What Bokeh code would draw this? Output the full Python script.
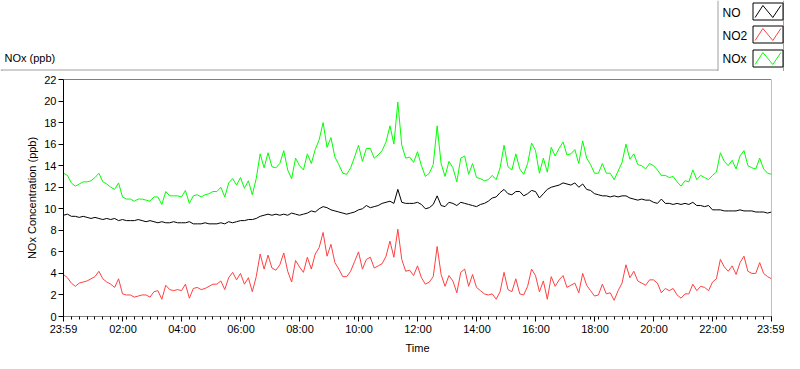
from bokeh.plotting import figure
from bokeh.layouts import column
from bokeh.models import FixedTicker, Span, Range1d
from bokeh.core.properties import value
from bokeh.embed import file_html
from bokeh.resources import INLINE

# ---------------- data ----------------
series_names = ["NO", "NO2", "NOx"]
series_colors = ["#000000", "#FF4040", "#00FF00"]

# sample times in minutes after 23:59 (8-minute steps over 24 h)
sample_minutes = list(range(0, 1441, 8))

no_ppb = [
    9.4, 9.5, 9.3, 9.3, 9.2, 9.3, 9.2, 9.1, 9.2, 9.1, 9.0, 9.1, 9.0, 9.1, 8.9, 9.0, 8.9, 8.9, 8.9, 9.0, 8.9, 8.8, 8.9, 8.8, 8.7, 8.8, 8.7, 8.7, 8.8, 8.7,
    8.7, 8.7, 8.8, 8.6, 8.6, 8.6, 8.7, 8.6, 8.6, 8.6, 8.7, 8.6, 8.8, 8.7, 8.8, 8.9, 8.9, 9.0, 9.0, 9.1, 9.3, 9.4, 9.5, 9.4, 9.5, 9.4, 9.5, 9.4, 9.6, 9.5,
    9.4, 9.5, 9.6, 9.8, 9.7, 10.0, 10.2, 10.1, 9.9, 9.8, 9.7, 9.6, 9.5, 9.6, 9.7, 9.9, 10.0, 10.3, 10.1, 10.2, 10.3, 10.5, 10.6, 10.7, 10.5, 11.8, 10.6, 10.5, 10.5, 10.5,
    10.6, 10.4, 10.0, 10.1, 10.4, 11.2, 10.3, 10.2, 10.6, 10.5, 10.3, 10.6, 10.5, 10.4, 10.3, 10.2, 10.4, 10.5, 10.7, 11.0, 11.1, 11.5, 11.8, 11.4, 11.3, 11.6, 11.6, 11.2, 11.4, 11.7,
    11.6, 11.0, 11.4, 11.8, 12.0, 12.1, 12.2, 12.4, 12.3, 12.2, 12.4, 12.0, 12.3, 11.8, 11.7, 11.4, 11.3, 11.2, 11.2, 11.1, 11.2, 11.1, 11.2, 11.2, 11.0, 10.9, 10.8, 10.9, 10.8, 10.8,
    10.6, 10.5, 10.9, 10.5, 10.5, 10.4, 10.5, 10.4, 10.5, 10.4, 10.6, 10.3, 10.3, 10.2, 10.3, 9.9, 9.9, 9.9, 9.8, 9.8, 9.8, 9.8, 9.9, 9.8, 9.8, 9.8, 9.7, 9.7, 9.7, 9.6, 9.7,
]

no2_ppb = [
    3.9, 3.6, 3.1, 2.8, 3.1, 3.2, 3.3, 3.5, 3.7, 4.2, 3.5, 3.2, 3.0, 2.7, 3.5, 2.1, 2.0, 2.0, 1.8, 1.9, 2.0, 2.0, 1.8, 2.3, 2.4, 1.6, 2.9, 2.5, 2.4, 2.5,
    2.4, 3.0, 1.7, 2.6, 2.7, 2.5, 2.6, 2.8, 3.0, 3.0, 3.3, 2.5, 3.6, 4.1, 3.4, 4.0, 3.0, 3.6, 2.3, 3.7, 5.8, 4.4, 5.7, 4.5, 4.3, 4.8, 5.9, 4.2, 3.2, 5.2,
    4.6, 4.1, 5.5, 4.4, 5.8, 6.4, 7.8, 5.6, 6.7, 5.0, 4.4, 3.7, 3.7, 4.2, 5.1, 6.0, 4.4, 5.3, 5.5, 4.5, 4.7, 4.9, 5.6, 7.0, 5.5, 8.1, 5.3, 4.2, 4.3, 3.8,
    4.7, 3.6, 3.0, 3.2, 3.7, 6.5, 3.9, 2.8, 3.8, 3.3, 2.2, 4.1, 4.4, 2.8, 3.9, 2.7, 2.4, 2.1, 2.0, 2.1, 1.6, 2.3, 4.1, 2.5, 2.3, 3.5, 2.1, 2.0, 2.8, 4.4,
    3.8, 2.3, 3.3, 1.6, 3.7, 2.8, 3.4, 3.8, 2.7, 2.9, 3.1, 2.2, 4.0, 2.9, 2.4, 1.9, 2.0, 3.0, 2.1, 2.2, 1.5, 2.4, 3.1, 4.8, 3.6, 4.2, 3.3, 3.1, 2.9, 3.4,
    3.4, 3.1, 2.2, 2.6, 2.4, 2.6, 2.0, 1.7, 2.1, 2.1, 3.0, 2.4, 2.8, 2.7, 2.4, 3.2, 3.5, 5.3, 4.6, 4.2, 4.7, 3.9, 5.0, 5.6, 4.2, 4.0, 4.0, 5.0, 4.0, 3.7, 3.5,
]

nox_ppb = [
    13.3, 13.1, 12.4, 12.1, 12.3, 12.5, 12.5, 12.6, 12.9, 13.3, 12.5, 12.3, 12.0, 11.8, 12.4, 11.1, 10.9, 10.9, 10.7, 10.9, 10.9, 10.8, 10.7, 11.1, 11.1, 10.4, 11.6, 11.2, 11.2, 11.2,
    11.1, 11.7, 10.5, 11.2, 11.3, 11.1, 11.3, 11.4, 11.6, 11.6, 12.0, 11.1, 12.4, 12.8, 12.2, 12.9, 11.9, 12.6, 11.3, 12.8, 15.1, 13.8, 15.2, 13.9, 13.8, 14.2, 15.4, 13.6, 12.8, 14.7,
    14.0, 13.6, 15.1, 14.2, 15.5, 16.4, 18.0, 15.7, 16.6, 14.8, 14.1, 13.3, 13.2, 13.8, 14.8, 15.9, 14.4, 15.6, 15.6, 14.7, 15.0, 15.4, 16.2, 17.7, 16.0, 19.9, 15.9, 14.7, 14.8, 14.3,
    15.3, 14.0, 13.0, 13.3, 14.1, 17.7, 14.2, 13.0, 14.4, 13.8, 12.5, 14.7, 14.9, 13.2, 14.2, 12.9, 12.8, 12.6, 12.7, 13.1, 12.7, 13.8, 15.9, 13.9, 13.6, 15.1, 13.7, 13.2, 14.2, 16.1,
    15.4, 13.3, 14.7, 13.4, 15.7, 14.9, 15.6, 16.2, 15.0, 15.1, 15.5, 14.2, 16.3, 14.7, 14.1, 13.3, 13.3, 14.2, 13.3, 13.3, 12.7, 13.5, 14.3, 16.0, 14.6, 15.1, 14.1, 14.0, 13.7, 14.2,
    14.0, 13.6, 13.1, 13.1, 12.9, 13.0, 12.5, 12.1, 12.6, 12.5, 13.6, 12.7, 13.1, 12.9, 12.7, 13.1, 13.4, 15.2, 14.4, 14.0, 14.5, 13.7, 14.9, 15.4, 14.0, 13.8, 13.7, 14.7, 13.7, 13.3, 13.2,
]

x_tick_minutes = [0, 121, 241, 361, 481, 601, 721, 841, 961, 1081, 1201, 1321, 1440]
x_tick_labels = ["23:59", "02:00", "04:00", "06:00", "08:00", "10:00", "12:00",
                 "14:00", "16:00", "18:00", "20:00", "22:00", "23:59"]
x_minor_step = 16
y_ticks = [0, 2, 4, 6, 8, 10, 12, 14, 16, 18, 20, 22]
x_title = "Time"
y_title = "NOx Concentration (ppb)"
caption = "NOx (ppb)"

# ---------------- layout ----------------
W = 784
TOP_H = 71
MAIN_H = 266
BOT_H = 16
FL, FR = 63, 13
FONT = "Liberation Sans"


def band(height):
    f = figure(width=W, height=height, output_backend="svg", toolbar_location=None,
               x_range=Range1d(0, W), y_range=Range1d(height, 0),
               x_axis_type=None, y_axis_type=None, min_border=0)
    f.frame_align = False
    f.outline_line_color = None
    f.background_fill_color = "white"
    f.border_fill_color = "white"
    return f


# ---- top band: caption + legend ----
top = band(TOP_H)
LEG_L = 717.5
top.segment(x0=[0, 1.5, LEG_L, 783.5], y0=[69.5, 69.5, 0, 0],
            x1=[LEG_L, 1.5, LEG_L, 783.5], y1=[69.5, TOP_H, TOP_H, TOP_H],
            line_color=["#a0a0a0", "#a0a0a0", "#a0a0a0", "#404040"], line_width=1)
top.text(x=[4], y=[57], text=[caption], text_font=value(FONT),
         text_font_size=value("11px"), text_baseline="middle", text_color="black")

row_top = [2.5, 25.5, 49.5]
row_bot = [19.5, 42.5, 66.5]
row_mid = [12, 35, 58]
top.text(x=[722] * 3, y=row_mid, text=series_names, text_font=value(FONT),
         text_font_size=value("12px"), text_baseline="middle", text_color="black")
box_l, box_r = 752.5, 782.5
top.quad(left=[box_l] * 3, right=[box_r] * 3, top=row_top, bottom=row_bot,
         fill_color="white", line_color="black", line_width=1)
bw = box_r - box_l
zx = [box_l + 0.07 * bw, box_l + 0.33 * bw, box_l + 0.66 * bw, box_l + 0.93 * bw]
top.multi_line(xs=[zx] * 3,
               ys=[[b - 2.5, t + 2.5, b - 2.5, t + 2.5] for t, b in zip(row_top, row_bot)],
               line_color=series_colors, line_width=1)

# ---- main chart ----
p = figure(width=W, height=MAIN_H, output_backend="svg", toolbar_location=None,
           x_range=Range1d(0, 1440), y_range=Range1d(0, 22),
           min_border_left=FL, min_border_right=FR, min_border_top=8,
           min_border_bottom=20, y_axis_label=y_title)
p.frame_align = False
p.background_fill_color = "white"
p.border_fill_color = "white"
p.outline_line_color = None
p.grid.visible = False

for ax in (p.xaxis[0], p.yaxis[0]):
    ax.major_label_text_font = FONT
    ax.major_label_text_font_size = "11px"
    ax.major_label_text_color = "black"
    ax.axis_label_text_font = FONT
    ax.axis_label_text_font_size = "11px"
    ax.axis_label_text_font_style = "normal"
    ax.axis_label_text_color = "black"
    ax.major_tick_line_color = "black"
    ax.major_tick_in = 0
    ax.major_tick_out = 5
    ax.minor_tick_line_color = "black"
    ax.minor_tick_in = 0
    ax.minor_tick_out = 3
    ax.major_label_standoff = 2
    ax.axis_label_standoff = 0

xa = p.xaxis[0]
xa.ticker = FixedTicker(ticks=x_tick_minutes,
                        minor_ticks=list(range(0, 1441, x_minor_step)))
xa.major_label_overrides = {t: l for t, l in zip(x_tick_minutes, x_tick_labels)}
xa.axis_line_color = "#808080"
xa.major_label_standoff = 1

ya = p.yaxis[0]
ya.ticker = FixedTicker(ticks=y_ticks, minor_ticks=[])
ya.axis_line_color = "black"
ya.axis_label_standoff = 3

p.add_layout(Span(location=22, dimension="width", line_color="black", line_width=1))
p.add_layout(Span(location=1440, dimension="height", line_color="#808080", line_width=1))

p.line(sample_minutes, nox_ppb, line_color=series_colors[2], line_width=1)
p.line(sample_minutes, no_ppb, line_color=series_colors[0], line_width=1)
p.line(sample_minutes, no2_ppb, line_color=series_colors[1], line_width=1)

# ---- bottom band: x-axis title ----
bot = band(BOT_H)
bot.text(x=[(FL + W - FR) / 2], y=[10], text=[x_title], text_font=value(FONT),
         text_font_size=value("11px"), text_align="center", text_baseline="alphabetic",
         text_color="black")

layout = column(top, p, bot, spacing=0)
open("out.html", "w").write(file_html(layout, INLINE))
